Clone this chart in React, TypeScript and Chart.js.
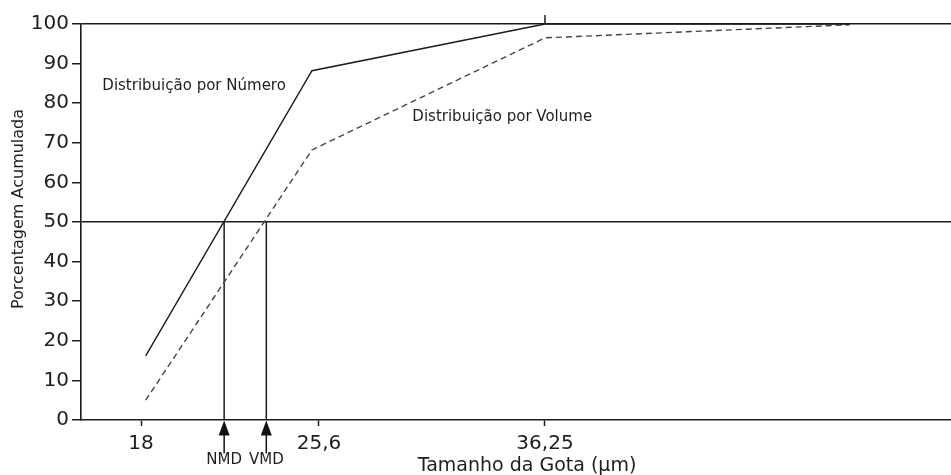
import React, { useEffect, useRef } from 'react';
import { Chart, registerables, LinearScale } from 'chart.js';

// ---------- data ----------
const xTickValues = [18, 25.6, 36.25];
const xTickLabels = ['18', '25,6', '36,25'];
const yMin = 0;
const yMax = 100;
const yStep = 10;
const yGridValues = [50, 100];

const numeroX = [18.2, 25.3, 36.25, 50.6];
const numeroY = [16.2, 88.2, 100, 100];
const volumeX = [18.2, 25.3, 36.25, 50.6];
const volumeY = [5, 68.2, 96.5, 99.8];

const nmdValue = 21.55;
const vmdValue = 23.35;
const medianPct = 50;
const markerLabels = ['NMD', 'VMD'];

const labelNumero = 'Distribuição por Número';
const labelVolume = 'Distribuição por Volume';
const xTitle = 'Tamanho da Gota (μm)';
const yTitle = 'Porcentagem Acumulada';

// anchors of the in-plot labels (data units)
const numeroLabelAt = [16.35, 84.3];
const volumeLabelAt = [30.0, 76.6];

// ---------- non-uniform x axis (piecewise linear between tick values) ----------
const xStops: [number, number][] = [
  [15.44, 0],
  [18, 0.06897],
  [25.6, 0.27356],
  [36.25, 0.53333],
  [55.38, 1],
];

function valueToFrac(v: number): number {
  const s = xStops;
  let i = 0;
  if (v <= s[0][0]) i = 0;
  else if (v >= s[s.length - 1][0]) i = s.length - 2;
  else {
    while (i < s.length - 2 && v > s[i + 1][0]) i++;
  }
  const [v0, f0] = s[i];
  const [v1, f1] = s[i + 1];
  return f0 + ((v - v0) / (v1 - v0)) * (f1 - f0);
}

function fracToValue(f: number): number {
  const s = xStops;
  let i = 0;
  if (f <= s[0][1]) i = 0;
  else if (f >= s[s.length - 1][1]) i = s.length - 2;
  else {
    while (i < s.length - 2 && f > s[i + 1][1]) i++;
  }
  const [v0, f0] = s[i];
  const [v1, f1] = s[i + 1];
  return v0 + ((f - f0) / (f1 - f0)) * (v1 - v0);
}

class PiecewiseScale extends LinearScale {
  static id = 'piecewise';
  static defaults = LinearScale.defaults;
  getPixelForValue(value: number) {
    if (value === null || value === undefined || isNaN(value as number)) return NaN;
    return (this as any).getPixelForDecimal(valueToFrac(value));
  }
  getValueForPixel(pixel: number) {
    return fracToValue((this as any).getDecimalForPixel(pixel));
  }
}

Chart.register(...registerables, PiecewiseScale as any);

const FONT = "'DejaVu Sans', 'Liberation Sans', sans-serif";
const INK = '#1e1e1e';
const LINE = '#1c1c1c';

const overlayPlugin = {
  id: 'overlay',
  afterDraw(chart: any) {
    const { ctx, chartArea, scales } = chart;
    const x = scales.x;
    const y = scales.y;
    ctx.save();

    // small tick at top on 36.25
    const tx = x.getPixelForValue(xTickValues[2]);
    ctx.strokeStyle = LINE;
    ctx.lineWidth = 1.5;
    ctx.beginPath();
    ctx.moveTo(tx, chartArea.top - 9);
    ctx.lineTo(tx, chartArea.top);
    ctx.stroke();

    // arrows + labels for NMD / VMD
    [nmdValue, vmdValue].forEach((v, i) => {
      const px = x.getPixelForValue(v);
      const top = chartArea.bottom + 0.5;
      ctx.fillStyle = '#111';
      ctx.beginPath();
      ctx.moveTo(px, top);
      ctx.lineTo(px - 5.5, top + 15);
      ctx.lineTo(px + 5.5, top + 15);
      ctx.closePath();
      ctx.fill();
      ctx.strokeStyle = '#111';
      ctx.lineWidth = 1.5;
      ctx.beginPath();
      ctx.moveTo(px, top + 13);
      ctx.lineTo(px, top + 33);
      ctx.stroke();
      ctx.font = `15px ${FONT}`;
      ctx.fillStyle = INK;
      ctx.textAlign = 'center';
      ctx.textBaseline = 'middle';
      ctx.fillText(markerLabels[i], px, chartArea.bottom + 40);
    });

    // in-plot labels
    ctx.font = `15px ${FONT}`;
    ctx.fillStyle = INK;
    ctx.textAlign = 'left';
    ctx.textBaseline = 'middle';
    ctx.fillText(labelNumero, x.getPixelForValue(numeroLabelAt[0]), y.getPixelForValue(numeroLabelAt[1]));
    ctx.fillText(labelVolume, x.getPixelForValue(volumeLabelAt[0]), y.getPixelForValue(volumeLabelAt[1]));

    // x title
    ctx.font = `19px ${FONT}`;
    ctx.textAlign = 'center';
    ctx.textBaseline = 'middle';
    ctx.fillText(xTitle, (chartArea.left + chartArea.right) / 2 + 11, chartArea.bottom + 46);

    // y title
    ctx.font = `16px ${FONT}`;
    ctx.translate(19, (chartArea.top + chartArea.bottom) / 2 - 13);
    ctx.rotate(-Math.PI / 2);
    ctx.fillText(yTitle, 0, 0);

    ctx.restore();
  },
};

export default function App() {
  const ref = useRef<HTMLCanvasElement | null>(null);

  useEffect(() => {
    if (!ref.current) return;
    const toPts = (xs: number[], ys: number[]) => xs.map((v, i) => ({ x: v, y: ys[i] }));
    const chart = new Chart(ref.current, {
      type: 'line',
      data: {
        datasets: [
          {
            label: labelNumero,
            data: toPts(numeroX, numeroY),
            borderColor: LINE,
            borderWidth: 1.4,
            pointRadius: 0,
            tension: 0,
            clip: false,
          },
          {
            label: labelVolume,
            data: toPts(volumeX, volumeY),
            borderColor: '#444444',
            borderWidth: 1.4,
            borderDash: [6, 4],
            pointRadius: 0,
            tension: 0,
            clip: false,
          },
          {
            label: markerLabels[0],
            data: [
              { x: nmdValue, y: yMin },
              { x: nmdValue, y: medianPct },
            ],
            borderColor: LINE,
            borderWidth: 1.5,
            pointRadius: 0,
          },
          {
            label: markerLabels[1],
            data: [
              { x: vmdValue, y: yMin },
              { x: vmdValue, y: medianPct },
            ],
            borderColor: LINE,
            borderWidth: 1.5,
            pointRadius: 0,
          },
        ] as any,
      },
      options: {
        animation: false,
        responsive: true,
        maintainAspectRatio: false,
        layout: { padding: { top: 24, left: 0, right: 0, bottom: 0 } },
        plugins: {
          legend: { display: false },
          tooltip: { enabled: false },
        },
        scales: {
          x: {
            type: 'piecewise' as any,
            min: xStops[0][0],
            max: xStops[xStops.length - 1][0],
            afterBuildTicks: (axis: any) => {
              axis.ticks = xTickValues.map((v) => ({ value: v }));
            },
            afterFit: (s: any) => {
              s.height = 55;
            },
            ticks: {
              autoSkip: false,
              maxRotation: 0,
              padding: 6,
              color: INK,
              font: { family: FONT, size: 20 },
              callback: (_v: any, i: number) => xTickLabels[i],
            },
            grid: {
              drawOnChartArea: false,
              color: 'rgba(0,0,0,0)',
              tickColor: LINE,
              tickLength: 6,
              tickWidth: 1.5,
            },
            border: { display: true, color: LINE, width: 1.6 },
          } as any,
          y: {
            min: yMin,
            max: yMax,
            afterFit: (s: any) => {
              s.width = 81;
            },
            ticks: {
              stepSize: yStep,
              padding: 3,
              color: INK,
              font: { family: FONT, size: 20 },
            },
            grid: {
              color: (c: any) => (yGridValues.includes(c.tick?.value) ? LINE : 'rgba(0,0,0,0)'),
              lineWidth: 1.5,
              tickColor: LINE,
              tickLength: 9,
              tickWidth: 1.5,
            },
            border: { display: true, color: LINE, width: 1.6 },
          } as any,
        },
      },
      plugins: [overlayPlugin as any],
    });
    return () => chart.destroy();
  }, []);

  return (
    <div style={{ position: 'absolute', left: 0, top: 0, width: 951, height: 475, background: '#fff' }}>
      <canvas ref={ref} />
    </div>
  );
}
